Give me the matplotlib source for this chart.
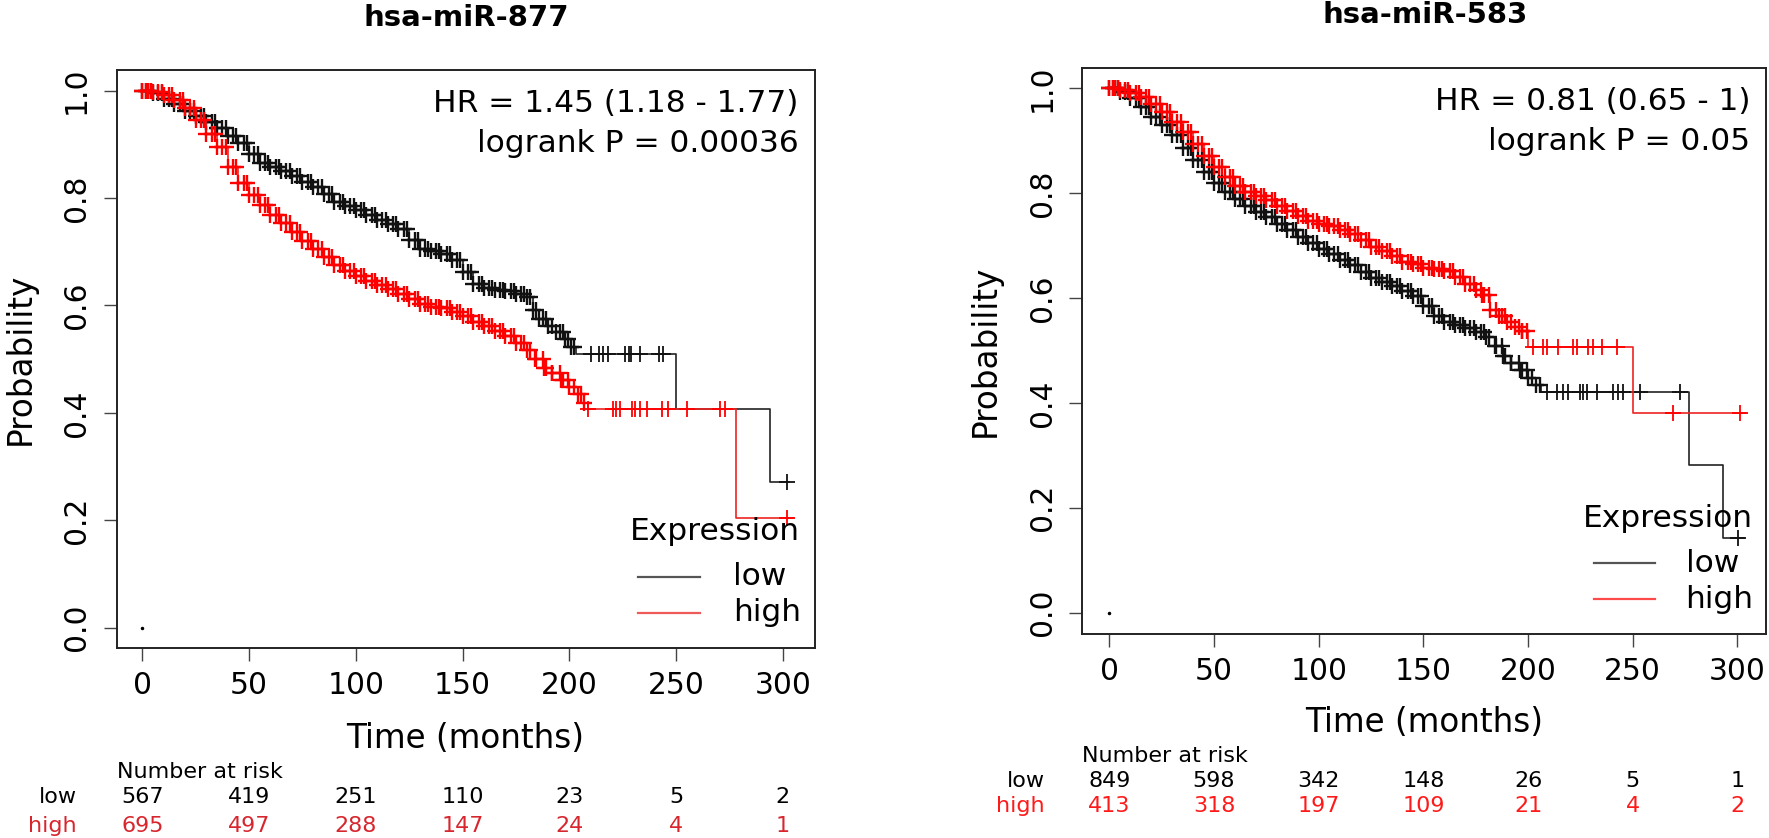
import matplotlib
matplotlib.use("Agg")
import matplotlib.pyplot as plt
import matplotlib.transforms as mtransforms
import numpy as np
from matplotlib.lines import Line2D

W, H = 1769, 838

TICKS_X = [0, 50, 100, 150, 200, 250, 300]
TICKS_Y = [0.0, 0.2, 0.4, 0.6, 0.8, 1.0]

# censoring times read in the dense part of every curve (marks sit on the curve)
DENSE_CENS = [1.5, 2.5, 4, 7.5, 9, 12.5, 14, 17.5, 19, 22.5, 24, 27.5, 29,
              32.5, 34, 37.5, 39, 42.5, 44, 47.5, 49, 52.5, 54, 57.5, 59,
              62.5, 64, 67.5, 69, 72.5, 74, 77.5, 79, 82.5, 84, 87.5, 89,
              92.5, 94, 97.5, 99, 102.5, 104, 107.5, 109, 112.5, 114, 117.5,
              119, 122.5, 124, 127.5, 129, 132.5, 134, 137.5, 139, 142.5, 144,
              147.5, 149, 152.5, 154, 157.5, 159, 162.5, 164, 167.5, 169,
              172.5, 174, 177.5, 179, 181.5, 184.5, 187.5, 189, 192, 195.5,
              197, 199.5, 202, 205.5]

# ---- hsa-miR-877 ----
T877_LOW = [0, 5, 10, 15, 20, 25, 30, 35, 40, 45, 50, 55, 60, 65, 70, 75, 80,
            85, 90, 95, 100, 105, 110, 115, 120, 125, 130, 135, 140, 145, 150,
            155, 160, 165, 170, 175, 180, 183, 186, 190, 194, 198, 201]
S877_LOW = [1.000, 0.995, 0.985, 0.975, 0.962, 0.952, 0.942, 0.930, 0.915,
            0.902, 0.882, 0.866, 0.857, 0.851, 0.842, 0.830, 0.820, 0.808,
            0.793, 0.786, 0.778, 0.768, 0.759, 0.752, 0.742, 0.722, 0.706,
            0.702, 0.695, 0.684, 0.662, 0.640, 0.632, 0.629, 0.627, 0.622,
            0.616, 0.592, 0.575, 0.562, 0.551, 0.538, 0.523]
STEP877_LOW_T = [203, 250, 294]
STEP877_LOW_S = [0.509, 0.407, 0.272]
END877_LOW = 303
CENS877_LOW = [210, 214, 216, 218, 226, 228, 229, 233, 242, 244, 302]

T877_HIGH = [0, 5, 10, 15, 20, 25, 30, 35, 40, 45, 50, 55, 60, 65, 70, 75, 80,
             85, 90, 95, 100, 105, 110, 115, 120, 125, 130, 135, 140, 145, 150,
             155, 160, 165, 170, 175, 180, 184, 188, 192, 196, 200, 204, 207]
S877_HIGH = [1.000, 0.997, 0.992, 0.982, 0.968, 0.945, 0.920, 0.895, 0.858,
             0.828, 0.805, 0.787, 0.768, 0.753, 0.737, 0.720, 0.705, 0.690,
             0.675, 0.664, 0.655, 0.645, 0.638, 0.630, 0.622, 0.612, 0.603,
             0.597, 0.595, 0.588, 0.580, 0.570, 0.561, 0.552, 0.543, 0.531,
             0.517, 0.500, 0.483, 0.475, 0.462, 0.449, 0.435, 0.418]
STEP877_HIGH_T = [209, 278]
STEP877_HIGH_S = [0.407, 0.204]
END877_HIGH = 305
CENS877_HIGH = [209, 220.5, 222, 223.7, 229.2, 230.7, 233.1, 236.2, 243.2,
                246.3, 255, 270.6, 272.9, 301.8]

RISK877_LOW = [567, 419, 251, 110, 23, 5, 2]
RISK877_HIGH = [695, 497, 288, 147, 24, 4, 1]

# ---- hsa-miR-583 ----
T583_LOW = [0, 5, 10, 15, 20, 25, 30, 35, 40, 45, 50, 55, 60, 65, 70, 75, 80,
            85, 90, 95, 100, 105, 110, 115, 120, 125, 130, 135, 140, 145, 150,
            155, 160, 165, 170, 175, 180, 184, 188, 192, 196, 200, 204]
S583_LOW = [1.000, 0.992, 0.982, 0.965, 0.946, 0.930, 0.910, 0.886, 0.863,
            0.840, 0.820, 0.803, 0.789, 0.776, 0.764, 0.755, 0.742, 0.729,
            0.717, 0.705, 0.694, 0.683, 0.673, 0.662, 0.650, 0.638, 0.630,
            0.622, 0.614, 0.603, 0.584, 0.566, 0.555, 0.549, 0.543, 0.535,
            0.526, 0.508, 0.490, 0.477, 0.463, 0.448, 0.435]
STEP583_LOW_T = [206, 277, 293]
STEP583_LOW_S = [0.421, 0.282, 0.142]
END583_LOW = 303
CENS583_LOW = [209, 213.7, 216.8, 219.2, 224.8, 226.4, 228, 232.8, 240.7,
               243.1, 245.5, 253.5, 272.6, 300.4]

T583_HIGH = [0, 5, 10, 15, 20, 25, 30, 35, 40, 45, 50, 55, 60, 65, 70, 75, 80,
             85, 90, 95, 100, 105, 110, 115, 120, 125, 130, 135, 140, 145, 150,
             155, 160, 165, 170, 175, 178, 182, 186, 190, 194, 197]
S583_HIGH = [1.000, 0.996, 0.991, 0.983, 0.970, 0.955, 0.936, 0.916, 0.893,
             0.871, 0.850, 0.830, 0.814, 0.803, 0.795, 0.787, 0.776, 0.766,
             0.756, 0.746, 0.741, 0.737, 0.730, 0.722, 0.710, 0.698, 0.689,
             0.681, 0.668, 0.664, 0.658, 0.655, 0.651, 0.640, 0.626, 0.616,
             0.605, 0.577, 0.566, 0.555, 0.545, 0.537]
STEP583_HIGH_T = [200, 250]
STEP583_HIGH_S = [0.507, 0.380]
END583_HIGH = 304
CENS583_HIGH = [202.5, 207.3, 208.9, 214.4, 221.6, 223.2, 228.8, 231.2,
                235.2, 242.3, 269.4, 301.3]

RISK583_LOW = [849, 598, 342, 148, 26, 5, 1]
RISK583_HIGH = [413, 318, 197, 109, 21, 4, 2]

LINE_LOW, LINE_HIGH = "#222222", "#ee2222"
MARK_LOW, MARK_HIGH = "#111111", "#ff0000"


def fx(x):
    return x / W


def fy(y):
    return 1 - y / H


def km(ax, t, s, step_t, step_s, end, cens, lc, mc):
    tt = list(t) + list(step_t) + [end]
    ss = np.array(list(s) + list(step_s) + [step_s[-1]])
    ax.step(tt, ss, where="post", color=lc, lw=1.2)
    dense = [c for c in DENSE_CENS if c < step_t[0]]
    idx = np.searchsorted(tt, dense, side="right") - 1
    ax.plot(list(t) + dense, list(s) + list(ss[idx]), ls="none", marker="+",
            ms=12, mew=1.7, color=mc)
    idx = np.searchsorted(tt, cens, side="right") - 1
    ax.plot(cens, ss[idx], ls="none", marker="+", ms=11, mew=1.3, color=mc)


def panel(fig, rect, xlim, ylim, curves, title, title_xy, hr, hr_x, hr_y,
          leg, xlab_xy, ylab_xy, risk, risk_y, risk_lab_x, red):
    ax = fig.add_axes(rect)
    for c in curves:
        km(ax, *c)
    ax.plot([0], [0], ls="none", marker="o", ms=1.5, color="black")
    ax.set_xlim(*xlim)
    ax.set_ylim(*ylim)
    ax.set_xticks(TICKS_X)
    ax.set_yticks(TICKS_Y)
    ax.set_yticklabels([f"{v:.1f}" for v in TICKS_Y], rotation=90, va="center")
    ax.tick_params(length=9.4, width=1.0, color="#444444", labelsize=21.4)
    ax.tick_params(axis="x", pad=6.8)
    ax.tick_params(axis="y", pad=9.0)
    for sp in ax.spines.values():
        sp.set_color("#222222")
        sp.set_linewidth(1.4)

    fig.text(fx(title_xy[0]), fy(title_xy[1]), title, ha="center",
             va="center", fontsize=21, fontweight="bold")
    for line, y in zip(hr, hr_y):
        fig.text(fx(hr_x), fy(y), line, ha="right", va="baseline",
                 fontsize=22.5)

    # legend drawn by hand
    (title_r, title_b), (lx0, lx1), (tx, ), rows = leg
    fig.text(fx(title_r), fy(title_b), "Expression", ha="right",
             va="baseline", fontsize=22.5)
    for (name, ly, tb, col) in rows:
        fig.add_artist(Line2D([fx(lx0), fx(lx1)], [fy(ly), fy(ly)],
                              color=col, lw=1.6, transform=fig.transFigure))
        fig.text(fx(tx), fy(tb), name, ha="left", va="baseline",
                 fontsize=22.5)

    fig.text(fx(xlab_xy[0]), fy(xlab_xy[1]), "Time (months)", ha="center",
             va="baseline", fontsize=23.5)
    fig.text(fx(ylab_xy[0]), fy(ylab_xy[1]), "Probability", ha="center",
             va="center", rotation=90, fontsize=23.5)

    # number at risk table
    trans = mtransforms.blended_transform_factory(ax.transData,
                                                  fig.transFigure)
    fig.text(rect[0], fy(risk_y[0]), "Number at risk", ha="left",
             va="baseline", fontsize=16)
    for (name, vals, col), y in zip(
            [("low", risk[0], "black"), ("high", risk[1], red)], risk_y[1:]):
        fig.text(fx(risk_lab_x), fy(y), name, ha="right", va="baseline",
                 fontsize=16, color=col)
        for x, v in zip(TICKS_X, vals):
            ax.text(x, fy(y), str(v), transform=trans, ha="center",
                    va="baseline", fontsize=16, color=col)
    return ax


fig = plt.figure(figsize=(W / 100, H / 100), dpi=100)

panel(fig, [116.7 / W, fy(648.3), 698.3 / W, 578.3 / H], (-12.0, 315.1),
      (-0.0384, 1.0385),
      [(T877_LOW, S877_LOW, STEP877_LOW_T, STEP877_LOW_S, END877_LOW,
        CENS877_LOW, LINE_LOW, MARK_LOW),
       (T877_HIGH, S877_HIGH, STEP877_HIGH_T, STEP877_HIGH_S, END877_HIGH,
        CENS877_HIGH, LINE_HIGH, MARK_HIGH)],
      "hsa-miR-877", (466, 17.5),
      ["HR = 1.45 (1.18 - 1.77)", "logrank P = 0.00036"], 798.5,
      [111.5, 152.5],
      ((800, 540), (638, 700), (732.7,),
       [("low", 576.7, 585, "#555555"), ("high", 612.7, 621, "#ee5a5a")]),
      (465, 748.3), (20, 359),
      (RISK877_LOW, RISK877_HIGH), (778.3, 803.3, 831.7), 76.7, "#d7262e")

panel(fig, [1082.3 / W, fy(634.3), 683.7 / W, 566 / H], (-12.95, 313.7),
      (-0.0412, 1.038),
      [(T583_LOW, S583_LOW, STEP583_LOW_T, STEP583_LOW_S, END583_LOW,
        CENS583_LOW, LINE_LOW, MARK_LOW),
       (T583_HIGH, S583_HIGH, STEP583_HIGH_T, STEP583_HIGH_S, END583_HIGH,
        CENS583_HIGH, LINE_HIGH, MARK_HIGH)],
      "hsa-miR-583", (1425, 15),
      ["HR = 0.81 (0.65 - 1)", "logrank P = 0.05"], 1750, [110, 149.5],
      ((1753, 526.7), (1594, 1654.5), (1685.5,),
       [("low", 563.3, 572, "#555555"), ("high", 599, 608, "#ff4a4a")]),
      (1424, 731.7), (985, 351.3),
      (RISK583_LOW, RISK583_HIGH), (761.7, 786.7, 811.7), 1044.5, "#ff1a1a")

fig.savefig("out.png", dpi=100)
